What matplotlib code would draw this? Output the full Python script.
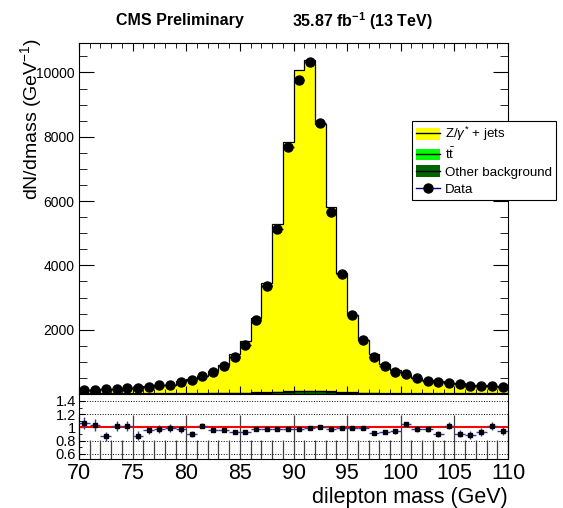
import numpy as np
import matplotlib
matplotlib.use("Agg")
import matplotlib.pyplot as plt
from matplotlib.patches import Patch
from matplotlib.lines import Line2D
from matplotlib.ticker import MultipleLocator

plt.rcParams['font.family'] = ['Liberation Sans', 'DejaVu Sans']
plt.rcParams['mathtext.fontset'] = 'custom'
plt.rcParams['mathtext.rm'] = 'Liberation Sans'
plt.rcParams['mathtext.it'] = 'Liberation Sans:italic'
plt.rcParams['mathtext.bf'] = 'Liberation Sans:bold'

# 1 GeV bins, 70 -> 110
edges = np.arange(70, 111, 1)
centers = edges[:-1] + 0.5

data = [134, 134, 144, 165, 186, 176, 227, 269, 289, 377,
        430, 563, 682, 873, 1137, 1514, 2300, 3357, 5140, 7667,
        9765, 10323, 8441, 5670, 3730, 2459, 1684, 1157, 878, 692,
        620, 496, 413, 362, 341, 300, 258, 258, 248, 227]

zjets = [101, 104, 142, 137, 158, 176, 209, 249, 264, 360,
         448, 517, 673, 869, 1189, 1593, 2321, 3385, 5202, 7740,
         9969, 10269, 8303, 5737, 3687, 2422, 1651, 1223, 913, 707,
         566, 480, 401, 379, 310, 311, 270, 256, 222, 219]

ttbar = [20, 20, 20, 19, 19, 19, 19, 19, 19, 18,
         18, 18, 18, 18, 18, 18, 18, 18, 18, 18,
         18, 18, 18, 18, 18, 17, 17, 17, 17, 17,
         17, 17, 17, 16, 16, 16, 16, 16, 16, 16]

other = [5, 5, 5, 6, 6, 7, 8, 9, 10, 11,
         12, 14, 16, 18, 22, 26, 32, 40, 52, 65,
         80, 88, 78, 60, 44, 32, 24, 18, 14, 12,
         10, 9, 8, 7, 7, 6, 6, 5, 5, 5]

data = np.array(data, float)
zjets = np.array(zjets, float)
ttbar = np.array(ttbar, float)
other = np.array(other, float)

s1 = other
s2 = other + ttbar
s3 = s2 + zjets
ratio = data / s3
ratio_err = ratio / np.sqrt(data)

fig = plt.figure(figsize=(5.63, 5.08), dpi=100)
ax = fig.add_axes([79/563, 1-394/508, 429/563, 351/508])
rax = fig.add_axes([79/563, 1-459/508, 429/563, 65/508])

# stacked histograms
ax.stairs(s1, edges, baseline=0, fill=True, color='#006400')
ax.stairs(s2, edges, baseline=s1, fill=True, color='#00ff00')
ax.stairs(s3, edges, baseline=s2, fill=True, color='#ffff00')
for top in [s1, s2, s3]:
    ax.stairs(top, edges, color='black', lw=0.9)

ax.errorbar(centers, data, xerr=0.5, yerr=np.sqrt(data), fmt='o', color='black',
            ecolor='#000080', elinewidth=1, ms=6.5, zorder=5)

ax.set_xlim(70, 110)
ax.set_ylim(0, 10915)
ax.xaxis.set_major_locator(MultipleLocator(5))
ax.xaxis.set_minor_locator(MultipleLocator(1))
ax.yaxis.set_major_locator(MultipleLocator(2000))
ax.yaxis.set_minor_locator(MultipleLocator(500))
ax.tick_params(which='both', direction='in', top=True, right=True, labelbottom=False)
ax.tick_params(axis='x', which='major', length=6)
ax.tick_params(axis='x', which='minor', length=3.5)
ax.tick_params(axis='y', which='major', length=11, labelsize=10)
ax.tick_params(axis='y', which='minor', length=5.5)
ax.set_yticks([2000, 4000, 6000, 8000, 10000])

fig.text(31/563, 1-38/508, r'dN/dmass (GeV$^{-1}$)', rotation=90, ha='center', va='top', fontsize=14)

fig.text(180/563, 1-21/508, 'CMS Preliminary', ha='center', va='center', fontsize=11.5, fontweight='bold')
fig.text(362/563, 1-21/508, r'35.87 fb$^{\mathbf{-1}}$ (13 TeV)', ha='center', va='center',
         fontsize=11.5, fontweight='bold')

# legend
h_z = (Patch(facecolor='#ffff00', edgecolor='none'), Line2D([], [], color='black', lw=1))
h_tt = (Patch(facecolor='#00ff00', edgecolor='none'), Line2D([], [], color='black', lw=1))
h_ot = (Patch(facecolor='#006400', edgecolor='none'), Line2D([], [], color='black', lw=1))
h_d = Line2D([], [], color='#000080', lw=1, marker='o', mfc='black', mec='black', ms=6.5)
leg = ax.legend([h_z, h_tt, h_ot, h_d],
                [r'Z/$\gamma^{*}$ + jets', r't$\bar{\mathrm{t}}$', 'Other background', 'Data'],
                loc='upper left', bbox_to_anchor=(412/563, 1-121/508), bbox_transform=fig.transFigure,
                fontsize=9.6, frameon=True, fancybox=False, framealpha=1, edgecolor='black',
                borderaxespad=0, borderpad=0.3, handlelength=1.8, handleheight=1.0,
                handletextpad=0.4, labelspacing=0.25)
leg.get_frame().set_linewidth(0.8)
leg.set_zorder(10)

# ratio panel
for yv in [0.6, 0.8, 1.0, 1.2, 1.4]:
    rax.axhline(yv, color='black', ls=':', lw=0.7, zorder=1)
rax.axhline(1.0, color='red', lw=1.5, zorder=2)
rax.errorbar(centers, ratio, xerr=0.5, yerr=ratio_err, fmt='s', color='black',
             ecolor='#3a3aa8', elinewidth=1, ms=3.5, zorder=4)
rax.set_xlim(70, 110)
rax.set_ylim(0.52, 1.505)
rax.xaxis.set_major_locator(MultipleLocator(5))
rax.xaxis.set_minor_locator(MultipleLocator(1))
rax.set_yticks([0.6, 0.8, 1.0, 1.2, 1.4])
rax.set_yticklabels(['0.6', '0.8', '1', '1.2', '1.4'])
rax.yaxis.set_minor_locator(MultipleLocator(0.1))
rax.tick_params(which='both', direction='in')
rax.tick_params(axis='x', which='major', length=32, width=0.9, labelsize=15.5, pad=3, color='0.25')
rax.tick_params(axis='x', which='minor', length=14, width=0.9, color='0.25')
rax.tick_params(axis='y', which='major', length=4, labelsize=10.5, pad=2)
rax.tick_params(axis='y', which='minor', length=2)
rax.set_xlabel('dilepton mass (GeV)', fontsize=15.5, loc='right', labelpad=2)

fig.savefig('out.png', dpi=100)
